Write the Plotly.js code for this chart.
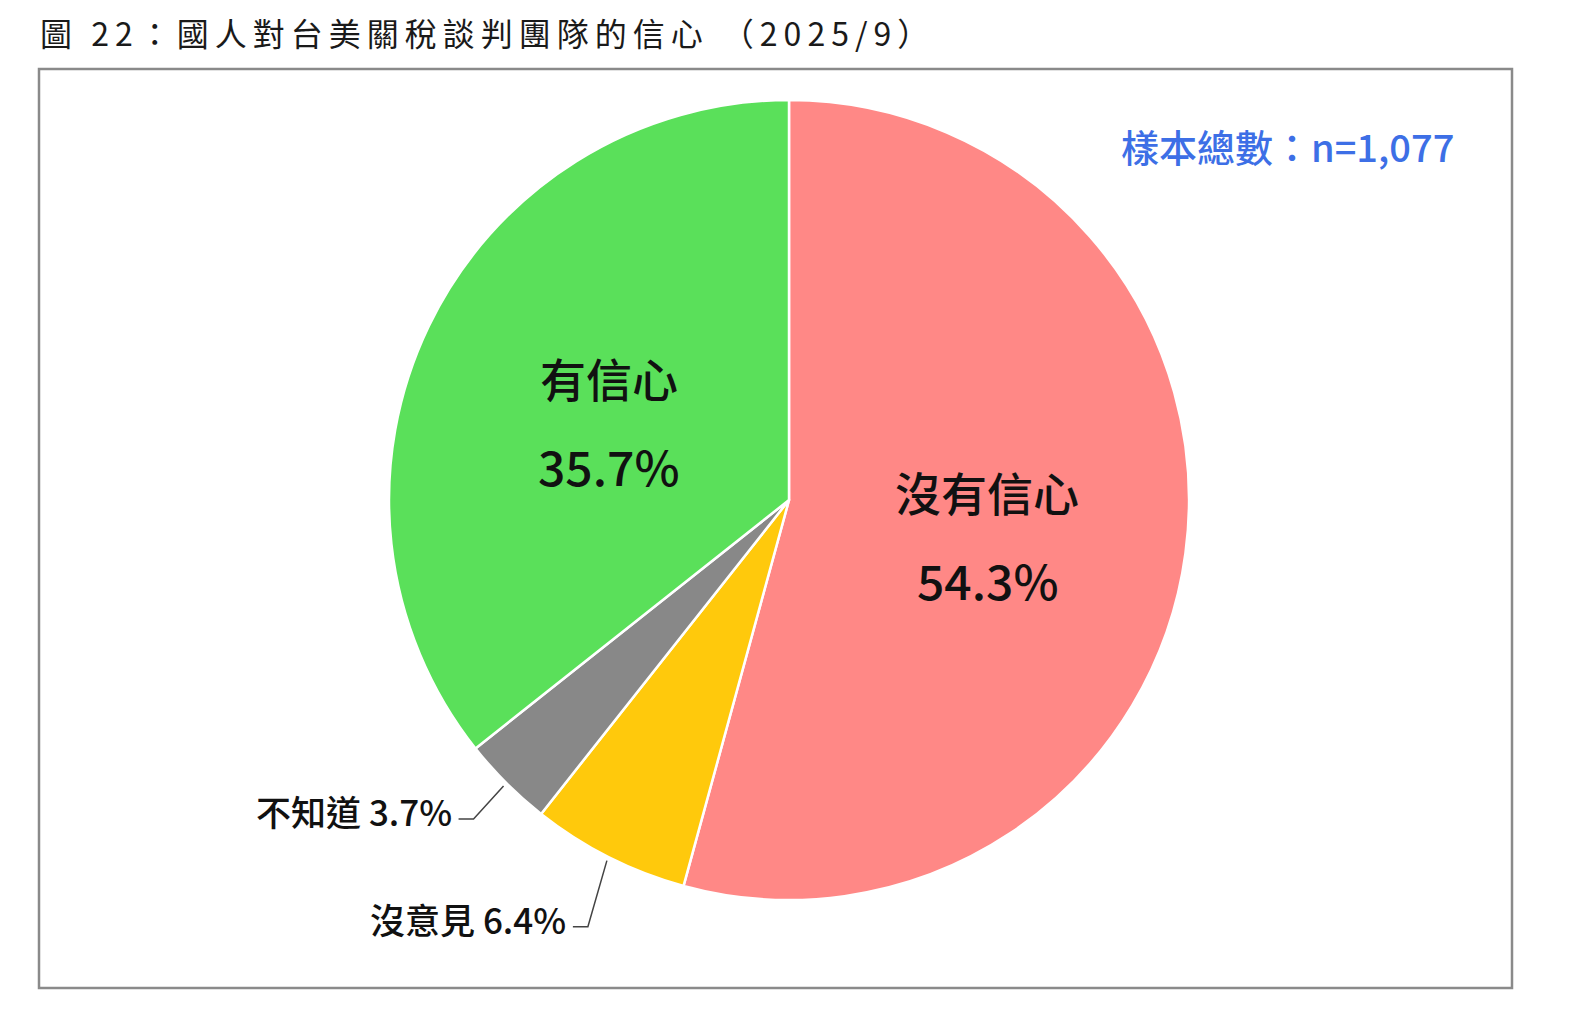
<!DOCTYPE html>
<html>
<head>
<meta charset="utf-8">
<script src="https://cdn.plot.ly/plotly-3.0.1.min.js"></script>
<style>
  html, body { margin: 0; padding: 0; background: #fff; overflow: hidden; }
  #chart { width: 1583px; height: 1034px; display: block; }
  .gtitle { letter-spacing: 6px; }
</style>
</head>
<body>
<div id="chart"></div>
<script>
// survey answers, clockwise from 12 o'clock
const labels = ["沒有信心", "沒意見", "不知道", "有信心"];
const values = [54.3, 6.4, 3.7, 35.7];
const sliceColors = ["#ff8886", "#ffc90c", "#888888", "#5ae05a"];
const sampleNote = "樣本總數：n=1,077";
const chartTitle = "圖 22：國人對台美關稅談判團隊的信心 （2025/9）";

const W = 1583, H = 1034;
// frame box in pixels
const L = 39, T = 69, R = 1512, B = 988;
const PW = R - L, PH = B - T;
const cx = 789, cy = 500, radius = 400;

function px2x(px) { return (px - L) / PW; }
function py2y(py) { return 1 - (py - T) / PH; }

// point at a given fraction of the circle (clockwise from top) and radius
function polar(frac, r)
{
  const a = frac * 2 * Math.PI;
  return [cx + r * Math.sin(a), cy - r * Math.cos(a)];
}

function midFractions()
{
  const total = values.reduce((s, v) => s + v, 0);
  let acc = 0;
  return values.map(v => {
    const mid = (acc + v / 2) / total;
    acc += v;
    return mid;
  });
}

const font = "'Noto Sans CJK TC', 'Noto Sans', sans-serif";
const mids = midFractions();
const annotations = [];
const shapes = [{
  type: "rect", xref: "paper", yref: "paper",
  x0: 0, x1: 1, y0: 0, y1: 1,
  line: {color: "#8a8a8a", width: 2.5}
}];

// big slices: name and percentage inside, on two lines
[0, 3].forEach(i => {
  const [x, y] = polar(mids[i], radius * 0.5);
  const yy = y + 8;
  annotations.push({
    xref: "paper", yref: "paper", x: px2x(x), y: py2y(yy - 44),
    text: labels[i], showarrow: false, xanchor: "center", yanchor: "middle",
    font: {family: font, size: 46, weight: 500, color: "#111"}
  });
  annotations.push({
    xref: "paper", yref: "paper", x: px2x(x), y: py2y(yy + 44),
    text: values[i].toFixed(1) + "%", showarrow: false, xanchor: "center", yanchor: "middle",
    font: {family: font, size: 48, weight: 500, color: "#111"}
  });
});

// small slices: outside label with elbow leader line
const elbows = {1: [-19, 66], 2: [-30, 33]};
[1, 2].forEach(i => {
  const [x0, y0] = polar(mids[i], radius + 4);
  const [dx, dy] = elbows[i];
  const x1 = x0 + dx, y1 = y0 + dy, x2 = x1 - 15;
  shapes.push({
    type: "path", xref: "paper", yref: "paper",
    path: `M ${px2x(x0)} ${py2y(y0)} L ${px2x(x1)} ${py2y(y1)} L ${px2x(x2)} ${py2y(y1)}`,
    line: {color: "#444", width: 1.5}
  });
  annotations.push({
    xref: "paper", yref: "paper", x: px2x(x2 - 5), y: py2y(y1 - 8),
    text: labels[i] + " " + values[i].toFixed(1) + "%", showarrow: false,
    xanchor: "right", yanchor: "middle",
    font: {family: font, size: 35, weight: 500, color: "#111"}
  });
});

annotations.push({
  xref: "paper", yref: "paper", x: px2x(1456), y: py2y(146),
  text: sampleNote, showarrow: false, xanchor: "right", yanchor: "middle",
  font: {family: font, size: 38, weight: 500, color: "#3d6fe6"}
});

const trace = {
  type: "pie",
  labels,
  values,
  sort: false,
  direction: "clockwise",
  rotation: 0,
  textinfo: "none",
  hoverinfo: "label+percent",
  marker: {colors: sliceColors, line: {color: "#fff", width: 2.5}},
  domain: {
    x: [px2x(cx - radius), px2x(cx + radius)],
    y: [py2y(cy + radius), py2y(cy - radius)]
  }
};

const layout = {
  width: W,
  height: H,
  margin: {l: L, r: W - R, t: T, b: H - B},
  paper_bgcolor: "#fff",
  showlegend: false,
  title: {
    text: chartTitle,
    xref: "container", yref: "container",
    x: 40 / W, y: 1 - 35 / H,
    xanchor: "left", yanchor: "middle",
    font: {family: font, size: 32, color: "#1a1a1a"}
  },
  annotations,
  shapes
};

Plotly.newPlot("chart", [trace], layout, {displayModeBar: false, staticPlot: true});
</script>
</body>
</html>
